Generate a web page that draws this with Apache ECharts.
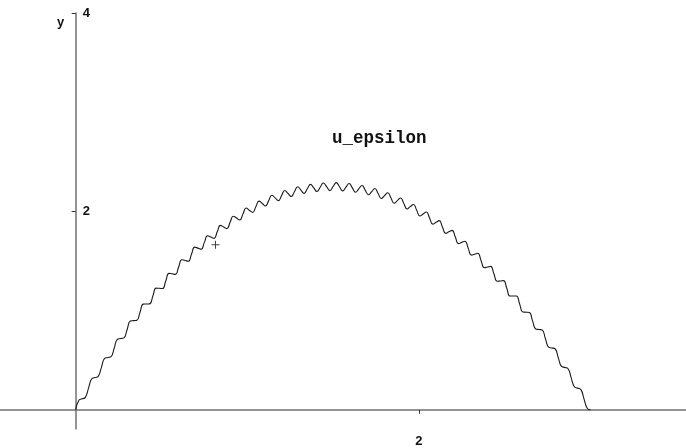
<!DOCTYPE html>
<html>
<head>
<meta charset="utf-8">
<script src="https://cdn.jsdelivr.net/npm/echarts@6/dist/echarts.min.js"></script>
<style>
  html, body { margin: 0; padding: 0; background: #fff; }
  #chart { width: 686px; height: 448px; }
</style>
</head>
<body>
<div id="chart"></div>
<script>
// Sample abscissas of the curve
const xs = [
  0, 0.01875, 0.0375, 0.05625, 0.075, 0.09375, 0.1125, 0.13125, 0.15, 0.16875,
  0.1875, 0.20625, 0.225, 0.24375, 0.2625, 0.28125, 0.3, 0.31875, 0.3375, 0.35625,
  0.375, 0.39375, 0.4125, 0.43125, 0.45, 0.46875, 0.4875, 0.50625, 0.525, 0.54375,
  0.5625, 0.58125, 0.6, 0.61875, 0.6375, 0.65625, 0.675, 0.69375, 0.7125, 0.73125,
  0.75, 0.76875, 0.7875, 0.80625, 0.825, 0.84375, 0.8625, 0.88125, 0.9, 0.91875,
  0.9375, 0.95625, 0.975, 0.99375, 1.0125, 1.03125, 1.05, 1.06875, 1.0875, 1.10625,
  1.125, 1.14375, 1.1625, 1.18125, 1.2, 1.21875, 1.2375, 1.25625, 1.275, 1.29375,
  1.3125, 1.33125, 1.35, 1.36875, 1.3875, 1.40625, 1.425, 1.44375, 1.4625, 1.48125,
  1.5, 1.51875, 1.5375, 1.55625, 1.575, 1.59375, 1.6125, 1.63125, 1.65, 1.66875,
  1.6875, 1.70625, 1.725, 1.74375, 1.7625, 1.78125, 1.8, 1.81875, 1.8375, 1.85625,
  1.875, 1.89375, 1.9125, 1.93125, 1.95, 1.96875, 1.9875, 2.00625, 2.025, 2.04375,
  2.0625, 2.08125, 2.1, 2.11875, 2.1375, 2.15625, 2.175, 2.19375, 2.2125, 2.23125,
  2.25, 2.26875, 2.2875, 2.30625, 2.325, 2.34375, 2.3625, 2.38125, 2.4, 2.41875,
  2.4375, 2.45625, 2.475, 2.49375, 2.5125, 2.53125, 2.55, 2.56875, 2.5875, 2.60625,
  2.625, 2.64375, 2.6625, 2.68125, 2.7, 2.71875, 2.7375, 2.75625, 2.775, 2.79375,
  2.8125, 2.83125, 2.85, 2.86875, 2.8875, 2.90625, 2.925, 2.94375, 2.9625, 2.98125,
  3
];

// u_epsilon values at those abscissas
const us = [
  0.000, 0.096, 0.111, 0.126, 0.219, 0.313, 0.325, 0.337, 0.428, 0.518,
  0.527, 0.536, 0.624, 0.712, 0.719, 0.725, 0.810, 0.895, 0.899, 0.902,
  0.984, 1.066, 1.067, 1.068, 1.148, 1.227, 1.225, 1.223, 1.299, 1.376,
  1.371, 1.366, 1.440, 1.513, 1.506, 1.498, 1.569, 1.640, 1.630, 1.619,
  1.688, 1.755, 1.742, 1.729, 1.794, 1.859, 1.844, 1.827, 1.890, 1.952,
  1.934, 1.914, 1.974, 2.034, 2.012, 1.990, 2.048, 2.104, 2.080, 2.055,
  2.109, 2.163, 2.136, 2.108, 2.160, 2.211, 2.181, 2.151, 2.199, 2.248,
  2.215, 2.182, 2.228, 2.273, 2.237, 2.201, 2.244, 2.287, 2.249, 2.210,
  2.250, 2.290, 2.249, 2.207, 2.244, 2.281, 2.237, 2.193, 2.228, 2.262,
  2.215, 2.168, 2.199, 2.231, 2.181, 2.131, 2.160, 2.188, 2.136, 2.083,
  2.109, 2.135, 2.080, 2.024, 2.048, 2.070, 2.012, 1.954, 1.974, 1.994,
  1.934, 1.872, 1.890, 1.907, 1.844, 1.779, 1.794, 1.809, 1.742, 1.675,
  1.688, 1.699, 1.630, 1.560, 1.569, 1.578, 1.506, 1.433, 1.440, 1.446,
  1.371, 1.296, 1.299, 1.303, 1.225, 1.147, 1.148, 1.148, 1.067, 0.986,
  0.984, 0.982, 0.899, 0.815, 0.810, 0.805, 0.719, 0.632, 0.624, 0.616,
  0.527, 0.438, 0.428, 0.417, 0.325, 0.233, 0.219, 0.206, 0.111, 0.016,
  0.000
];

// Marked point (cross)
const crossPoint = [0.815, 1.665];

// Tick positions and labels
const xTickValues = [2];
const yTickValues = [2, 4];
const curveName = 'u_epsilon';

const curve = xs.map((x, i) => [x, us[i]]);

const chart = echarts.init(document.getElementById('chart'), null, { renderer: 'canvas' });

const axisColor = '#707070';
const labelFont = { color: '#111', fontFamily: 'Liberation Sans', fontWeight: 'bold', fontSize: 13 };

const xMin = -0.441, xMax = 3.557;
// horizontal pixel offset of x = 0 inside the grid
const yAxisOffset = -686 * (0 - xMin) / (xMax - xMin);

chart.setOption({
  animation: false,
  backgroundColor: '#ffffff',
  grid: { left: 0, right: 0, top: 13, bottom: 0, containLabel: false },
  xAxis: {
    type: 'value',
    min: xMin,
    max: xMax,
    axisLine: { show: true, onZero: true, lineStyle: { color: axisColor, width: 1.5 } },
    axisTick: { show: true, length: 4, customValues: xTickValues, lineStyle: { color: '#333', width: 1 } },
    axisLabel: { show: true, customValues: xTickValues, margin: 6, ...labelFont },
    splitLine: { show: false }
  },
  yAxis: {
    type: 'value',
    position: 'left',
    offset: yAxisOffset,
    min: -0.193,
    max: 4,
    axisLine: { show: true, onZero: false, lineStyle: { color: axisColor, width: 1.5 } },
    axisTick: { show: true, length: 4, customValues: yTickValues, lineStyle: { color: '#333', width: 1 } },
    axisLabel: { show: true, inside: true, customValues: yTickValues, margin: 7, ...labelFont },
    splitLine: { show: false }
  },
  graphic: [
    {
      type: 'text',
      left: 57,
      top: 16,
      style: { text: 'y', font: 'bold 13px "Liberation Sans"', fill: '#111' }
    },
    {
      type: 'text',
      left: 332,
      top: 130,
      style: { text: curveName, font: 'bold 17.5px "Liberation Mono"', fill: '#111' }
    }
  ],
  series: [
    {
      name: curveName,
      type: 'line',
      data: curve,
      showSymbol: false,
      smooth: 0.5,
      lineStyle: { color: '#1a1a1a', width: 1.1 },
      silent: true
    },
    {
      type: 'scatter',
      data: [crossPoint],
      symbol: 'path://M3.5,0H4.5V3.5H8V4.5H4.5V8H3.5V4.5H0V3.5H3.5Z',
      symbolSize: 8,
      itemStyle: { color: '#111' },
      silent: true
    }
  ]
});
</script>
</body>
</html>
